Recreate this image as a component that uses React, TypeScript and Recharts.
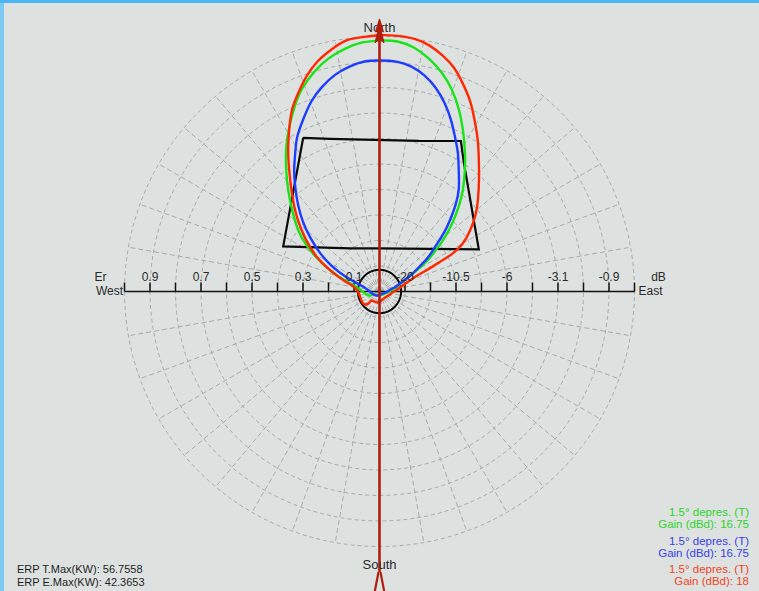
import React from 'react';
import { ComposedChart, Line, XAxis, YAxis, ReferenceLine, ReferenceDot } from 'recharts';

// ---------- data (azimuth in degrees clockwise from North, relative field Er) ----------
const greenPattern: [number, number][] = [
  [76.8, 0.069], [65.2, 0.113], [60.4, 0.168], [57.4, 0.22], [53.8, 0.273], [50.3, 0.333],
  [46.6, 0.395], [42.9, 0.457], [39.4, 0.515], [35.1, 0.582], [31.1, 0.648], [27.3, 0.713],
  [23.6, 0.778], [19.7, 0.841], [15.9, 0.892], [11.9, 0.934], [8.0, 0.966], [4.1, 0.983],
  [0.2, 0.984], [356.1, 0.979], [352.0, 0.962], [347.6, 0.935], [343.5, 0.899], [339.1, 0.851],
  [335.1, 0.794], [331.1, 0.733], [327.0, 0.672], [322.5, 0.601], [318.0, 0.535], [313.0, 0.468],
  [307.0, 0.399], [302.0, 0.334], [297.7, 0.271], [293.2, 0.21], [288.4, 0.149], [281.8, 0.096],
  [270.0, 0.067], [250.0, 0.046], [243.4, 0.026], [206.6, 0.018], [135.0, 0.017], [97.1, 0.032],
  [81.3, 0.052], [76.8, 0.069],
];

const bluePattern: [number, number][] = [
  [75.1, 0.061], [66.5, 0.099], [62.0, 0.143], [57.6, 0.191], [54.5, 0.237], [50.5, 0.291],
  [47.3, 0.348], [44.2, 0.401], [41.1, 0.455], [37.5, 0.511], [33.1, 0.569], [29.5, 0.624],
  [25.8, 0.678], [22.6, 0.729], [19.2, 0.78], [15.4, 0.829], [11.8, 0.865], [8.1, 0.891],
  [4.2, 0.904], [0.2, 0.906], [356.3, 0.904], [352.4, 0.89], [348.5, 0.868], [344.4, 0.834],
  [340.2, 0.791], [336.0, 0.737], [332.0, 0.687], [328.7, 0.636], [324.9, 0.582], [321.1, 0.526],
  [316.7, 0.465], [312.2, 0.404], [308.0, 0.345], [302.8, 0.276], [298.0, 0.21], [293.8, 0.146],
  [290.0, 0.092], [284.9, 0.061], [275.2, 0.043], [254.0, 0.029], [216.9, 0.02], [161.6, 0.012],
  [99.5, 0.024], [79.7, 0.044], [75.1, 0.061],
];

const redPattern: [number, number][] = [
  [83.7, 0.071], [72.9, 0.107], [67.4, 0.154], [65.4, 0.208], [63.8, 0.268], [62.5, 0.324],
  [60.0, 0.377], [55.9, 0.43], [51.3, 0.483], [46.8, 0.53], [41.4, 0.59], [36.8, 0.65],
  [32.7, 0.712], [28.8, 0.772], [25.5, 0.826], [21.8, 0.879], [18.4, 0.925], [15.0, 0.958],
  [11.5, 0.984], [7.9, 1.0], [4.0, 1.005], [0.2, 1.005], [356.2, 1.0], [352.5, 0.993],
  [348.7, 0.967], [344.9, 0.934], [341.2, 0.89], [337.8, 0.842], [334.3, 0.791], [330.8, 0.726],
  [327.2, 0.661], [323.4, 0.594], [317.8, 0.51], [311.7, 0.432], [305.6, 0.358], [299.1, 0.284],
  [293.2, 0.21], [286.4, 0.14], [272.6, 0.087], [237.1, 0.08], [222.5, 0.064], [221.6, 0.047],
  [190.3, 0.044], [150.3, 0.032], [114.0, 0.039], [94.4, 0.051], [83.7, 0.071],
];

const blackOutline: [number, number][] = [
  [333.6, 0.673], [342.1, 0.629], [14.6, 0.61], [28.4, 0.671], [33.3, 0.603], [67.0, 0.423],
  [0.0, 0.169], [326.0, 0.204], [295.1, 0.417], [333.6, 0.673],
];

const blackCircle: [number, number][] = [
  [0, 0.085], [15, 0.085], [30, 0.085], [45, 0.085], [60, 0.085], [75, 0.085], [90, 0.085],
  [105, 0.085], [120, 0.085], [135, 0.085], [150, 0.085], [165, 0.085], [180, 0.085],
  [195, 0.085], [210, 0.085], [225, 0.085], [240, 0.085], [255, 0.085], [270, 0.085],
  [285, 0.085], [300, 0.085], [315, 0.085], [330, 0.085], [345, 0.085], [360, 0.085],
];

const ringRadii = [0.1, 0.2, 0.3, 0.4, 0.5, 0.6, 0.7, 0.8, 0.9, 1.0];
const spokeAzimuths = [0, 10, 20, 30, 40, 50, 60, 70, 80, 90, 100, 110, 120, 130, 140, 150, 160, 170,
  180, 190, 200, 210, 220, 230, 240, 250, 260, 270, 280, 290, 300, 310, 320, 330, 340, 350];
const tickValues = [-1, -0.9, -0.8, -0.7, -0.6, -0.5, -0.4, -0.3, -0.2, -0.1,
  0.1, 0.2, 0.3, 0.4, 0.5, 0.6, 0.7, 0.8, 0.9, 1];
const erTickLabels = ['0.9', '0.7', '0.5', '0.3', '0.1'];
const erTickPositions = [-0.9, -0.7, -0.5, -0.3, -0.1];
const dbTickLabels = ['-20', '-10.5', '-6', '-3.1', '-0.9'];
const dbTickPositions = [0.1, 0.3, 0.5, 0.7, 0.9];

const legendDepression = ['1.5° depres. (T)', '1.5° depres. (T)', '1.5° depres. (T)'];
const legendGains = [16.75, 16.75, 18];
const erpLabels = ['ERP T.Max(KW)', 'ERP E.Max(KW)'];
const erpValues = ['56.7558', '42.3653'];

// ---------- helpers ----------
const toXY = (az: number, r: number) => ({
  x: r * Math.sin((az * Math.PI) / 180),
  y: r * Math.cos((az * Math.PI) / 180),
});
const toSeries = (p: [number, number][]) => p.map(([a, r]) => toXY(a, r));

const ringAngles: number[] = [];
for (let a = 0; a <= 360; a += 3) ringAngles.push(a);

const W = 759;
const H = 591;
const CX = 379.5;
const CY = 291.5;
const UNIT = 255;
const DOM = 1.1;
const FONT = '"Liberation Sans", Arial, sans-serif';

const GRID = '#a9abab';
const AXIS_RED = '#b01d0d';

const textShape = (
  text: string,
  dx: number,
  dy: number,
  anchor: 'start' | 'middle' | 'end',
  size: number,
  color = '#2a2a2a'
) => (props: any) => (
  <text
    x={props.cx + dx}
    y={props.cy + dy}
    textAnchor={anchor}
    fontSize={size}
    fontFamily={FONT}
    fill={color}
  >
    {text}
  </text>
);

const arrowHead = (props: any) => {
  const { cx, cy } = props;
  const d = `M ${cx} ${cy} L ${cx + 4} ${cy + 13} L ${cx + 1.5} ${cy + 11} L ${cx + 4.5} ${cy + 24} L ${cx} ${cy + 20} L ${cx - 4.5} ${cy + 24} L ${cx - 1.5} ${cy + 11} L ${cx - 4} ${cy + 13} Z`;
  return <path d={d} fill={AXIS_RED} stroke={AXIS_RED} strokeWidth={1} />;
};

const arrowTail = (props: any) => {
  const { cx, cy } = props;
  return (
    <g stroke={AXIS_RED} strokeWidth={2.2} fill="none">
      <path d={`M ${cx - 1} ${cy} L ${cx - 5} ${cy + 21}`} />
      <path d={`M ${cx + 1} ${cy} L ${cx + 5} ${cy + 21}`} />
    </g>
  );
};

export default function App() {
  const mLeft = CX - DOM * UNIT;
  const mRight = W - (CX + DOM * UNIT);
  const mTop = CY - DOM * UNIT;
  const mBottom = H - (CY + DOM * UNIT);

  return (
    <div
      style={{
        position: 'fixed',
        left: 0,
        top: 0,
        width: W,
        height: H,
        background: '#dde2e1',
        overflow: 'hidden',
        fontFamily: FONT,
      }}
    >
      <div style={{ position: 'absolute', left: 0, top: 0, width: 4, height: H, background: '#7ccaf1' }} />
      <div style={{ position: 'absolute', left: 0, top: 0, width: W, height: 3, background: '#4ab6f3' }} />

      <div style={{ position: 'absolute', left: 0, top: 0 }}>
        <ComposedChart
          width={W}
          height={H}
          margin={{ top: mTop, left: mLeft, right: mRight, bottom: mBottom }}
        >
          <XAxis type="number" dataKey="x" domain={[-DOM, DOM]} allowDataOverflow hide />
          <YAxis type="number" dataKey="y" domain={[-DOM, DOM]} allowDataOverflow hide />

          {ringRadii.map((r) => (
            <Line
              key={`ring-${r}`}
              data={ringAngles.map((a) => toXY(a, r))}
              dataKey="y"
              type="linear"
              stroke={GRID}
              strokeWidth={1}
              strokeDasharray="4 3"
              dot={false}
              activeDot={false}
              isAnimationActive={false}
            />
          ))}
          {spokeAzimuths.map((a) => (
            <Line
              key={`spoke-${a}`}
              data={[toXY(a, 0), toXY(a, 1)]}
              dataKey="y"
              type="linear"
              stroke={GRID}
              strokeWidth={1}
              strokeDasharray="5 3"
              dot={false}
              activeDot={false}
              isAnimationActive={false}
            />
          ))}

          <Line
            data={[{ x: -1, y: 0 }, { x: 1, y: 0 }]}
            dataKey="y"
            type="linear"
            stroke="#111"
            strokeWidth={1.5}
            dot={false}
            activeDot={false}
            isAnimationActive={false}
          />
          {tickValues.map((t) => (
            <ReferenceLine
              key={`tick-${t}`}
              segment={[{ x: t, y: 0 }, { x: t, y: 0.035 }]}
              stroke="#111"
              strokeWidth={1.5}
            />
          ))}

          {erTickLabels.map((lab, i) => (
            <ReferenceDot key={`er-${lab}`} x={erTickPositions[i]} y={0} r={0} shape={textShape(lab, 0, -11, 'middle', 12)} />
          ))}
          {dbTickLabels.map((lab, i) => (
            <ReferenceDot key={`db-${lab}`} x={dbTickPositions[i]} y={0} r={0} shape={textShape(lab, 0, -11, 'middle', 12)} />
          ))}
          <ReferenceDot x={-1} y={0} r={0} shape={textShape('Er', -24, -11, 'middle', 12)} />
          <ReferenceDot x={-1} y={0} r={0} shape={textShape('West', -1.5, 3.5, 'end', 12)} />
          <ReferenceDot x={1} y={0} r={0} shape={textShape('dB', 24, -11, 'middle', 12)} />
          <ReferenceDot x={1} y={0} r={0} shape={textShape('East', 4, 3.5, 'start', 12)} />
          <ReferenceDot x={0} y={1} r={0} shape={textShape('North', 0, -5, 'middle', 13)} />
          <ReferenceDot x={0} y={-1} r={0} shape={textShape('South', 0, 22, 'middle', 13)} />

          <Line data={toSeries(blackOutline)} dataKey="y" type="linear" stroke="#0a0a0a" strokeWidth={2.2}
            dot={false} activeDot={false} isAnimationActive={false} />
          <Line data={toSeries(blackCircle)} dataKey="y" type="natural" stroke="#0a0a0a" strokeWidth={2}
            dot={false} activeDot={false} isAnimationActive={false} />
          <Line data={toSeries(greenPattern)} dataKey="y" type="natural" stroke="#18e418" strokeWidth={2.4}
            dot={false} activeDot={false} isAnimationActive={false} />
          <Line data={toSeries(bluePattern)} dataKey="y" type="natural" stroke="#1e3cff" strokeWidth={2.4}
            dot={false} activeDot={false} isAnimationActive={false} />
          <Line data={toSeries(redPattern)} dataKey="y" type="natural" stroke="#ff2800" strokeWidth={2.4}
            dot={false} activeDot={false} isAnimationActive={false} />

          <ReferenceLine
            segment={[{ x: 0, y: 1.06 }, { x: 0, y: -1.1 }]}
            stroke={AXIS_RED}
            strokeWidth={2.6}
            ifOverflow="visible"
          />
          <ReferenceDot x={0} y={1.069} r={0} shape={arrowHead} />
          <ReferenceDot x={0} y={-1.1} r={0} shape={arrowTail} />
        </ComposedChart>
      </div>

      {/* legend, bottom right */}
      {[
        { color: '#2bd42b', top: 506 },
        { color: '#3a3ee6', top: 535 },
        { color: '#f2431f', top: 563 },
      ].map((item, i) => (
        <div
          key={`leg-${i}`}
          style={{
            position: 'absolute',
            right: 10,
            top: item.top,
            textAlign: 'right',
            fontSize: 11.5,
            lineHeight: '12px',
            color: item.color,
            whiteSpace: 'nowrap',
          }}
        >
          <div>{legendDepression[i]}</div>
          <div>{`Gain (dBd): ${legendGains[i]}`}</div>
        </div>
      ))}

      {/* ERP texts, bottom left */}
      <div
        style={{
          position: 'absolute',
          left: 17,
          top: 563,
          fontSize: 11,
          lineHeight: '13px',
          color: '#1e1e1e',
          whiteSpace: 'nowrap',
        }}
      >
        {erpLabels.map((l, i) => (
          <div key={l}>{`${l}: ${erpValues[i]}`}</div>
        ))}
      </div>
    </div>
  );
}
